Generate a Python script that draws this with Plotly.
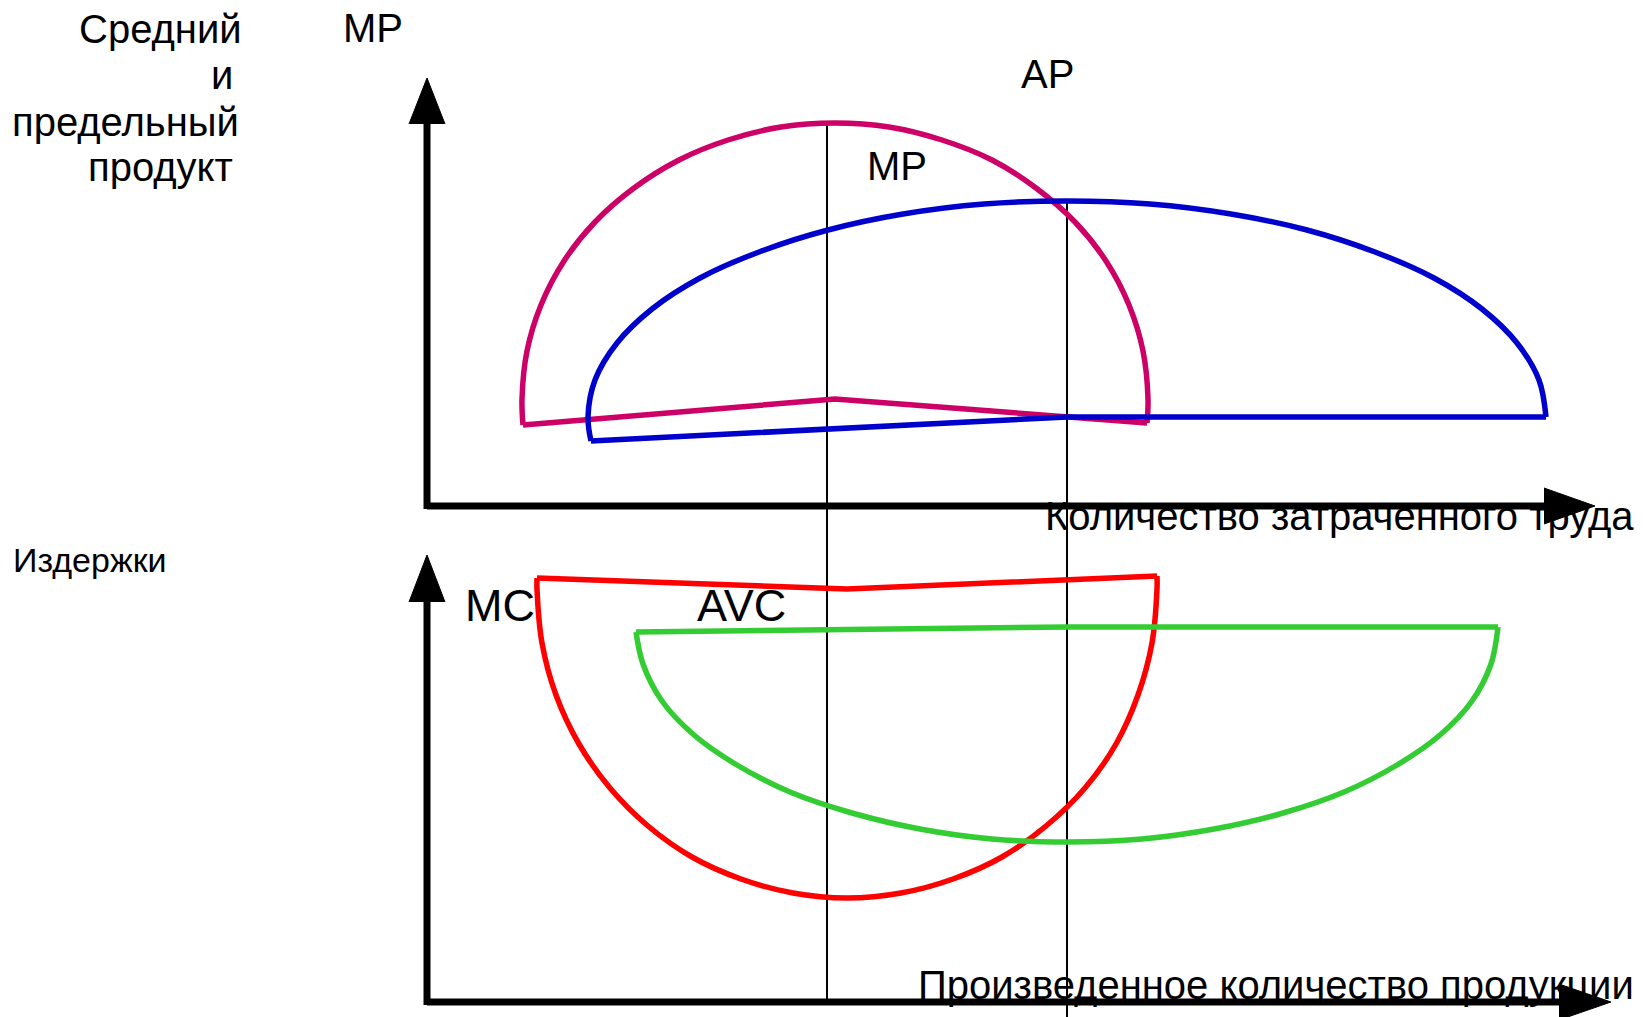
import plotly.graph_objects as go

# --- canvas (pixel-like coordinates, y grows downward) ---
W, H = 1643, 1017
FONT = "Liberation Sans, Arial, sans-serif"

# --- upper panel: MP (magenta) and AP (blue), both drawn as pie-like sectors ---
mp_arc_x = [523, 522, 527, 541, 564, 595, 634, 679, 728, 781, 835, 889, 942, 992, 1036, 1075, 1106, 1129, 1143, 1148, 1147]
mp_arc_y = [425, 399, 351, 305, 261, 222, 188, 160, 140, 127, 123, 127, 140, 160, 188, 222, 261, 305, 351, 399, 423]
mp_base_x = [1147, 835, 523]
mp_base_y = [423, 399, 425]

ap_arc_x = [591, 588, 595, 617, 652, 700, 759, 828, 903, 984, 1067, 1150, 1231, 1307, 1375, 1434, 1482, 1517, 1539, 1546]
ap_arc_y = [441, 417, 380, 343, 309, 278, 252, 230, 214, 204, 201, 204, 214, 230, 252, 278, 309, 343, 380, 417]
ap_base_x = [1546, 1067, 591]
ap_base_y = [417, 417, 441]

# --- lower panel: MC (red) and AVC (green) ---
mc_arc_x = [537, 537, 542, 556, 579, 610, 648, 692, 741, 793, 847, 901, 953, 1002, 1046, 1085, 1116, 1138, 1152, 1157, 1157]
mc_arc_y = [578, 589, 643, 695, 744, 788, 826, 857, 879, 893, 898, 893, 879, 857, 826, 788, 744, 695, 643, 589, 576]
mc_top_x = [537, 847, 1157]
mc_top_y = [578, 589, 576]

avc_arc_x = [636, 643, 662, 694, 737, 790, 852, 920, 992, 1067, 1142, 1214, 1283, 1344, 1397, 1440, 1472, 1491, 1498]
avc_arc_y = [632, 664, 701, 735, 765, 792, 813, 829, 839, 842, 839, 829, 813, 792, 765, 735, 701, 664, 627]
avc_top_x = [636, 1067, 1498]
avc_top_y = [632, 627, 627]

# --- axes, arrows and guide lines ---
axis_up_x = [[427, 427], [427, 1550]]
axis_up_y = [[122, 509], [506, 506]]
axis_lo_x = [[427, 427], [427, 1562]]
axis_lo_y = [[600, 1005], [1002, 1002]]
arrow_x = [[409, 427, 445], [1544, 1595, 1544], [409, 427, 445], [1559, 1611, 1559]]
arrow_y = [[124, 78, 124], [488, 506, 524], [602, 555, 602], [984, 1002, 1020]]
guide_x = [[827, 827], [1067, 1067]]
guide_y = [[124, 1002], [200, 1017]]

# --- labels: text, x, y, font size, anchor ---
labels = [
    ("Средний", 244, 29, 40, "right"),
    ("и", 235, 75, 40, "right"),
    ("предельный", 241, 122, 40, "right"),
    ("продукт", 235, 167, 40, "right"),
    ("MP", 341, 28, 40, "left"),
    ("AP", 1019, 74, 40, "left"),
    ("MP", 865, 166, 40, "left"),
    ("Количество затраченного труда", 1636, 516, 40, "right"),
    ("Издержки", 11, 560, 34, "left"),
    ("MC", 463, 605, 45, "left"),
    ("AVC", 695, 605, 45, "left"),
    ("Произведенное количество продукции", 1636, 985, 40, "right"),
]

fig = go.Figure()


def add_line(x, y, color, width, shape="linear"):
    fig.add_trace(go.Scatter(x=x, y=y, mode="lines", hoverinfo="skip", showlegend=False,
                             line=dict(color=color, width=width, shape=shape, smoothing=1.0)))


for xs, ys in zip(guide_x, guide_y):
    add_line(xs, ys, "black", 2)

add_line(mp_arc_x, mp_arc_y, "#CC0066", 5.5, "spline")
add_line(mp_base_x, mp_base_y, "#CC0066", 5.5)
add_line(ap_arc_x, ap_arc_y, "#0000CC", 5.5, "spline")
add_line(ap_base_x, ap_base_y, "#0000CC", 5.5)
add_line(mc_arc_x, mc_arc_y, "#FF0000", 5.5, "spline")
add_line(mc_top_x, mc_top_y, "#FF0000", 5.5)
add_line(avc_arc_x, avc_arc_y, "#33CC33", 5.5, "spline")
add_line(avc_top_x, avc_top_y, "#33CC33", 5.5)

for xs, ys in zip(axis_up_x + axis_lo_x, axis_up_y + axis_lo_y):
    add_line(xs, ys, "black", 7)

for xs, ys in zip(arrow_x, arrow_y):
    fig.add_trace(go.Scatter(x=xs, y=ys, mode="lines", fill="toself", fillcolor="black",
                             line=dict(color="black", width=1), hoverinfo="skip", showlegend=False))

for text, x, y, size, anchor in labels:
    fig.add_annotation(x=x, y=y, xref="x", yref="y", text=text, showarrow=False,
                       xanchor=anchor, yanchor="middle",
                       font=dict(family=FONT, size=size, color="black"))

fig.update_xaxes(range=[0, W], visible=False, fixedrange=True)
fig.update_yaxes(range=[H, 0], visible=False, fixedrange=True)
fig.update_layout(width=W, height=H, margin=dict(l=0, r=0, t=0, b=0),
                  paper_bgcolor="white", plot_bgcolor="white", showlegend=False)

# drop the default page margin so the drawing sits at the window origin
fig.write_html("out.html", config={"displayModeBar": False},
               post_script="document.body.style.margin='0px';document.body.style.overflow='hidden';")
